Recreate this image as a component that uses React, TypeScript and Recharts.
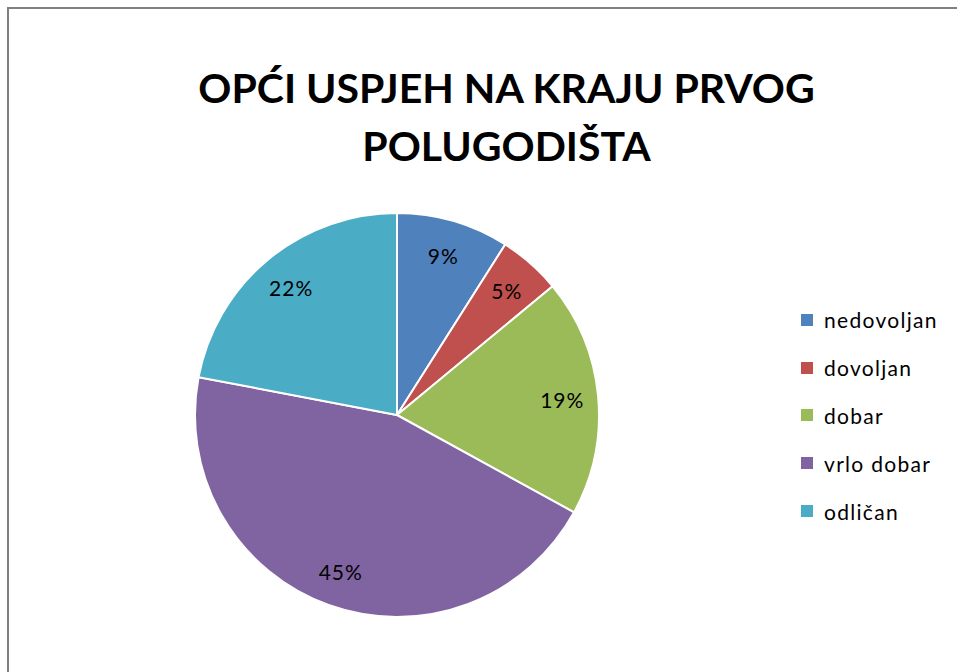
import { PieChart, Pie, Cell, Legend } from 'recharts'

const categories = ['nedovoljan', 'dovoljan', 'dobar', 'vrlo dobar', 'odličan']
const shares = [9, 5, 19, 45, 22]
const colors = ['#4F81BD', '#C0504D', '#9BBB59', '#8064A2', '#4BACC6']

const titleLines = ['OPĆI USPJEH NA KRAJU PRVOG', 'POLUGODIŠTA']

const data = categories.map((name, i) => ({ name, value: shares[i] }))

const RAD = Math.PI / 180
const font = 'Lato, "Open Sans", sans-serif'

// percentage labels sit inside the slices
const renderLabel = (props: any) => {
  const { cx, cy, midAngle, value } = props
  const r = 166
  const x = cx + r * Math.cos(-midAngle * RAD)
  const y = cy + r * Math.sin(-midAngle * RAD)
  return (
    <text x={x} y={y} textAnchor="middle" dominantBaseline="central" fill="#000" fontSize={21} fontFamily={font} letterSpacing={1}>
      {`${value}%`}
    </text>
  )
}

const renderLegend = () => (
  <div style={{ fontFamily: font, fontSize: 21, color: '#000', letterSpacing: 1.3 }}>
    {data.map((d, i) => (
      <div key={d.name} style={{ display: 'flex', alignItems: 'center', height: 47.8 }}>
        <span style={{ width: 12, height: 12, background: colors[i], marginRight: 11, display: 'inline-block' }} />
        <span>{d.name}</span>
      </div>
    ))}
  </div>
)

const App = () => {
  return (
    <div style={{ position: 'absolute', left: 0, top: 0, width: 957, height: 672, overflow: 'hidden', background: '#fff' }}>
      <div style={{ position: 'absolute', left: 7, top: 7, width: 1000, height: 700, border: '2px solid #808080' }} />
      <div
        style={{
          position: 'absolute',
          left: 0,
          top: 59,
          width: 1013,
          textAlign: 'center',
          fontFamily: font,
          fontWeight: 700,
          fontSize: 41,
          lineHeight: '58px',
          color: '#000',
        }}
      >
        {titleLines.map(l => (
          <div key={l}>{l}</div>
        ))}
      </div>
      <div style={{ position: 'absolute', left: 0, top: 0 }}>
        <PieChart width={957} height={672}>
          <Pie
            data={data}
            dataKey="value"
            nameKey="name"
            cx={392}
            cy={410}
            outerRadius={202}
            startAngle={90}
            endAngle={-270}
            stroke="#fff"
            strokeWidth={2}
            label={renderLabel}
            labelLine={false}
            isAnimationActive={false}
          >
            {data.map((d, i) => (
              <Cell key={d.name} fill={colors[i]} />
            ))}
          </Pie>
          <Legend
            layout="vertical"
            content={renderLegend}
            wrapperStyle={{ position: 'absolute', left: 801, top: 296, width: 156 }}
          />
        </PieChart>
      </div>
    </div>
  )
}

export default App
